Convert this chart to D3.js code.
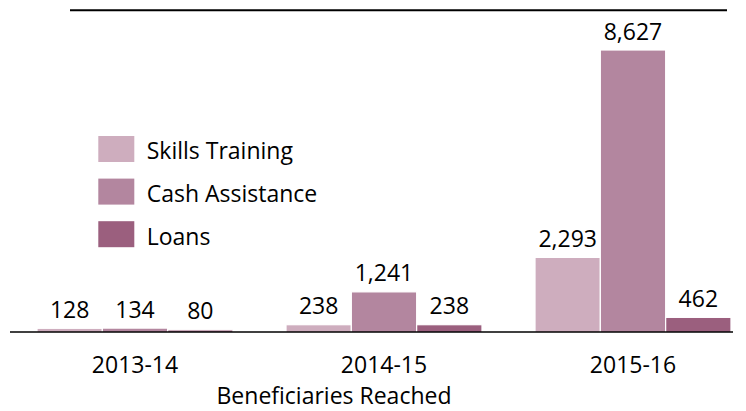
<!DOCTYPE html>
<html>
<head>
<meta charset="utf-8">
<script src="https://cdn.jsdelivr.net/npm/d3@7/dist/d3.min.js"></script>
<style>
  html, body { margin: 0; padding: 0; background: #fff; }
  svg { display: block; }
  text { font-family: "Open Sans", Lato, sans-serif; fill: #000; }
</style>
</head>
<body>
<svg id="chart" width="746" height="411"></svg>
<script>
// Beneficiaries reached per programme, by fiscal year
const years = ["2013-14", "2014-15", "2015-16"];
const seriesNames = ["Skills Training", "Cash Assistance", "Loans"];
const skillsTraining = [128, 238, 2293];
const cashAssistance = [134, 1241, 8627];
const loans = [80, 238, 462];
const seriesColors = ["#CEADBE", "#B3869F", "#9B5F7E"];
const axisTitle = "Beneficiaries Reached";

const seriesValues = [skillsTraining, cashAssistance, loans];
const rows = years.map((yr, i) => ({
  year: yr,
  values: seriesNames.map((name, s) => ({ name, s, value: seriesValues[s][i] }))
}));

const svg = d3.select("#chart");
const fmt = d3.format(",");

const x0 = d3.scaleBand()
  .domain(years)
  .range([10.5, 757.5])
  .paddingInner(0.213)
  .paddingOuter(0.1065);

const x1 = d3.scaleBand()
  .domain(seriesNames)
  .range([0, x0.bandwidth()]);

const y = d3.scaleLinear()
  .domain([0, 10000])
  .range([332.5, 5.04]);

const color = d3.scaleOrdinal().domain(seriesNames).range(seriesColors);

// top border of the plot area
svg.append("line")
  .attr("x1", 70).attr("x2", 727)
  .attr("y1", 10.3).attr("y2", 10.3)
  .attr("stroke", "#000").attr("stroke-width", 2);

// bars
const groups = svg.append("g").selectAll("g")
  .data(rows)
  .join("g")
  .attr("transform", d => `translate(${x0(d.year)},0)`);

groups.selectAll("rect")
  .data(d => d.values)
  .join("rect")
  .attr("x", d => x1(d.name))
  .attr("y", d => y(d.value))
  .attr("width", x1.bandwidth())
  .attr("height", d => y(0) - y(d.value))
  .attr("fill", d => color(d.name))
  .attr("stroke", "#fff")
  .attr("stroke-width", 1.2);

// value labels
groups.selectAll("text")
  .data(d => d.values)
  .join("text")
  .attr("x", d => x1(d.name) + x1.bandwidth() / 2)
  .attr("y", d => y(d.value) - 10.5)
  .attr("text-anchor", "middle")
  .attr("font-size", 23)
  .text(d => fmt(d.value));

// baseline
svg.append("line")
  .attr("x1", 10).attr("x2", 733)
  .attr("y1", 332).attr("y2", 332)
  .attr("stroke", "#000").attr("stroke-width", 1.5);

// category labels
svg.append("g").selectAll("text")
  .data(years)
  .join("text")
  .attr("x", d => x0(d) + x0.bandwidth() / 2)
  .attr("y", 372.7)
  .attr("text-anchor", "middle")
  .attr("font-size", 23)
  .text(d => d);

// axis title
svg.append("text")
  .attr("x", 334)
  .attr("y", 403.5)
  .attr("text-anchor", "middle")
  .attr("font-size", 23)
  .text(axisTitle);

// legend
const legend = svg.append("g").selectAll("g")
  .data(seriesNames)
  .join("g")
  .attr("transform", (d, i) => `translate(98.3,${136 + i * 42.6})`);

legend.append("rect")
  .attr("width", 36).attr("height", 26)
  .attr("fill", d => color(d));

legend.append("text")
  .attr("x", 48.4)
  .attr("y", 23.3)
  .attr("font-size", 23)
  .text(d => d);
</script>
</body>
</html>
